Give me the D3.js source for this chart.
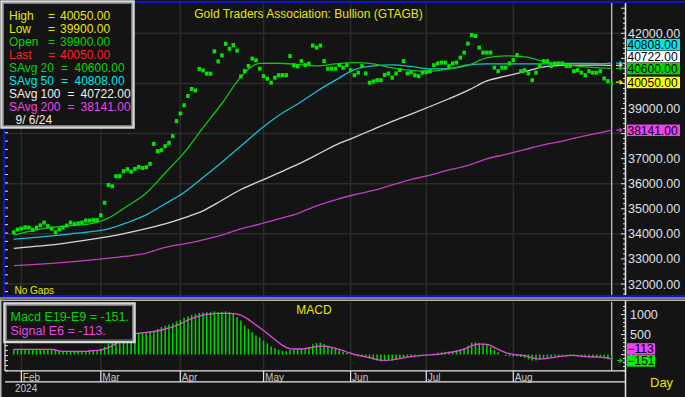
<!DOCTYPE html>
<html>
<head>
<meta charset="utf-8">
<script src="https://cdn.jsdelivr.net/npm/d3@7"></script>
<style>
  html, body { margin: 0; padding: 0; background: #141414; overflow: hidden; }
  svg { display: block; font-family: "Liberation Sans", Arial, sans-serif; }
</style>
</head>
<body>
<div id="chart"></div>
<script>
// Chart size
const width = 685;
const height = 397;

// Trading days (weekdays) shown on the chart
const firstDay = new Date(2024, 0, 30);
const lastDay = new Date(2024, 8, 6);

// Daily closes, one per trading day
const closes = [
  34060, 34170, 34210, 34260, 34250, 34155, 34250, 34340, 34450, 34310,
  34210, 34060, 34180, 34250, 34330, 34450, 34390, 34420, 34450, 34530,
  34530, 34550, 34550, 34740, 35240, 35950, 35900, 36300, 36300, 36500,
  36580, 36480, 36590, 36670, 36630, 36660, 36790, 37590, 37300, 37340,
  37500, 37630, 37900, 38500, 38800, 39130, 39500, 39780, 39720, 40580,
  40520, 40390, 40390, 41280, 40880, 41120, 41580, 41380, 41530, 41310,
  40280, 40500, 40700, 40990, 40920, 40590, 40290, 40190, 40030, 40230,
  40330, 40330, 40330, 41090, 40720, 40680, 40890, 40730, 40790, 41510,
  41430, 41510, 40890, 40590, 40590, 40590, 40730, 40630, 40730, 40530,
  40330, 40430, 40690, 40400, 40030, 40080, 40130, 40130, 40340, 40400,
  40230, 40400, 40530, 40890, 40400, 40450, 40330, 40290, 40430, 40450,
  40490, 40730, 40800, 40830, 40830, 40690, 40800, 40830, 41030, 41230,
  41590, 41930, 41890, 41430, 41230, 41230, 41230, 40630, 40490, 40630,
  40630, 40800, 40930, 41130, 40490, 40530, 40400, 40130, 40430, 40690,
  40890, 40890, 40690, 40800, 40800, 40800, 40690, 40690, 40490, 40530,
  40430, 40330, 40490, 40430, 40430, 40490, 40200, 40090, 40050
];

// Last day's bar
const lastHigh = 40050;
const lastLow = 39900;
const lastOpen = 39900;
const lastClose = 40050;

// Moving averages, read at these trading-day indexes
const maIdx = [0, 5, 10, 15, 20, 25, 30, 35, 40, 45, 50, 55, 60, 65, 70, 75, 80,
  85, 90, 95, 100, 105, 110, 115, 120, 125, 130, 135, 140, 145, 150, 155, 158];
const sAvg20 = [33955, 34130, 34260, 34330, 34400, 34630, 35110, 35630, 36430, 37240,
  38240, 39200, 40260, 40800, 40805, 40760, 40700, 40780, 40830, 40780, 40620, 40520,
  40480, 40580, 40720, 41020, 41100, 41060, 40880, 40760, 40670, 40620, 40600];
const sAvg50 = [33785, 33850, 33920, 34000, 34080, 34200, 34450, 34760, 35200, 35650,
  36250, 36860, 37500, 38150, 38720, 39180, 39680, 40130, 40550, 40700, 40740, 40680,
  40580, 40590, 40740, 40780, 40780, 40780, 40780, 40800, 40800, 40790, 40808];
const sAvg100 = [33425, 33490, 33560, 33660, 33770, 33890, 34040, 34210, 34400, 34640,
  34920, 35340, 35770, 36100, 36430, 36770, 37150, 37540, 37850, 38170, 38490, 38780,
  39080, 39390, 39720, 40100, 40290, 40470, 40660, 40720, 40730, 40730, 40722];
const sAvg200 = [32730, 32770, 32820, 32880, 32950, 33030, 33110, 33230, 33460, 33600,
  33760, 33950, 34200, 34390, 34600, 34810, 35120, 35360, 35560, 35730, 35950, 36170,
  36340, 36550, 36730, 36990, 37170, 37360, 37550, 37700, 37880, 38040, 38141];

// MACD (E19-E9) histogram and signal (E6), one per trading day
const macd = [
  135, 135, 138, 140, 138, 135, 132, 135, 138, 136, 130,
  110, 90, 80, 75, 72, 70, 72, 75, 80, 95, 105, 110,
  145, 200, 275, 350, 400, 450, 480, 510, 530,
  550, 545, 555, 565, 575, 600,
  640, 690, 720, 750, 780, 830, 870, 920, 960, 990, 1010, 1040, 1050, 1060, 1060, 1080, 1060, 1070, 1080, 1060, 1040,
  940, 850, 730, 640, 560, 480, 420, 350, 280, 200, 160, 120, 95, 85,
  130, 130, 140, 150, 170, 190, 250, 290, 300, 260, 220, 180, 140, 110,
  70, 40, 10, -20, -40, -50, -60, -100, -120, -150, -170, -160, -150, -150, -120, -90, -60, -60,
  -40, -30, -20, -10, 0, 10, 30, 50, 60, 70, 80, 90, 110, 130, 160, 220, 300, 310,
  290, 270, 240, 190, 120, 60, 0, -30, -40, -50, -40, -60, -80, -120, -150, -150,
  -130, -100, -80, -60, -50, -40, -30, -30, -30, -40, -40, -50, -60, -60, -60, -60, -70, -90, -115, -151
];
const signal = [
  130, 130, 130, 130, 130, 130, 130, 130, 130, 130, 130,
  115, 95, 82, 80, 80, 78, 78, 80, 82, 90, 98, 104,
  115, 140, 175, 220, 275, 330, 390, 440, 490,
  520, 535, 545, 555, 565, 575,
  590, 615, 640, 665, 695, 730, 770, 815, 860, 900, 935, 965, 990, 1005, 1015, 1025, 1030, 1030, 1030, 1030, 1025,
  1010, 985, 940, 880, 810, 740, 670, 600, 530, 450, 370, 300, 230, 180, 150, 140, 140, 140,
  150, 165, 180, 200, 212, 215, 200, 180, 155, 130,
  100, 65, 35, 5, -15, -35, -55, -75, -100, -125, -140, -145, -140, -130, -115, -100, -80, -65,
  -50, -40, -30, -20, -15, -8, 0, 8, 20, 35, 50, 65, 85, 105, 135, 175, 220, 250,
  260, 260, 255, 230, 175, 130, 85, 50, 25, 5, -5, -15, -25, -50, -80, -100,
  -105, -105, -95, -80, -65, -50, -40, -30, -20, -20, -30, -40, -50, -55, -60, -60, -65, -75, -85, -113
];

// Axis ticks
const priceTicks = [32000, 33000, 34000, 35000, 36000, 37000, 38000, 39000, 40000, 41000, 42000];
const priceGrid = [32000, 34000, 36000, 38000, 40000, 42000];
const macdTicks = [0, 500, 1000];

// Style constants
const COLORS = {
    bg: "#141414",
    grid: "#2c2c2c",
    blue: "#0a14d8",
    frame: "#b8b8b8",
    text: "#dde2e8",
    yellow: "#e8e800",
    dots: "#00e600",
    s20: "#10c810",
    s50: "#18c0d0",
    s100: "#d8d8d8",
    s200: "#c040c0",
    green: "#00d800",
    cyan: "#00e8e8",
    white: "#f0f0f0",
    red: "#ff2020",
    magenta: "#e848e8"
};

const days = d3.timeDay.range(firstDay, d3.timeDay.offset(lastDay, 1))
    .filter(d => d.getDay() !== 0 && d.getDay() !== 6);

const svg = d3.select("#chart")
    .append("svg")
    .attr("width", width)
    .attr("height", height);

svg.append("rect").attr("width", width).attr("height", height).attr("fill", COLORS.bg);

// Scales
const x = d3.scalePoint().domain(d3.range(closes.length)).range([13.8, 611.7]);
const y = d3.scaleLinear().domain([32000, 42000]).range([284, 33.3]);
const ym = d3.scaleLinear().domain([0, 1000]).range([354.6, 314.6]);

// month starts (the last, unfinished month gets no mark)
const monthStarts = d3.range(1, days.length)
    .filter(i => days[i].getMonth() !== days[i - 1].getMonth())
    .filter(i => x(i) < 590);

// ---------- Price panel ----------
const main = svg.append("g");

main.selectAll("line.hgrid")
    .data(priceGrid)
    .enter().append("line")
    .attr("x1", 5).attr("x2", 625)
    .attr("y1", d => y(d)).attr("y2", d => y(d))
    .attr("stroke", COLORS.grid).attr("stroke-width", 1.5);

main.selectAll("line.vgrid")
    .data(monthStarts)
    .enter().append("line")
    .attr("x1", d => x(d)).attr("x2", d => x(d))
    .attr("y1", 3).attr("y2", 295)
    .attr("stroke", COLORS.grid).attr("stroke-width", 1.5);

// cursor on last bar
main.append("line")
    .attr("x1", x(closes.length - 1)).attr("x2", x(closes.length - 1))
    .attr("y1", 3).attr("y2", 295)
    .attr("stroke", "#d0d0d0").attr("stroke-width", 1.2);

const maLine = d3.line().x((d, i) => x(maIdx[i])).y(d => y(d)).curve(d3.curveMonotoneX);
[[sAvg200, COLORS.s200], [sAvg100, COLORS.s100], [sAvg50, COLORS.s50], [sAvg20, COLORS.s20]]
    .forEach(([vals, color]) => {
        main.append("path")
            .attr("d", maLine(vals))
            .attr("fill", "none")
            .attr("stroke", color)
            .attr("stroke-width", 1.3);
    });

// close dots
main.selectAll("rect.dot")
    .data(closes.slice(0, -1))
    .enter().append("rect")
    .attr("x", (d, i) => x(i) - 1.75)
    .attr("y", d => y(d) - 2)
    .attr("width", 3.5)
    .attr("height", 4)
    .attr("fill", COLORS.dots);

// last day as a bar
main.append("rect")
    .attr("x", x(closes.length - 1) - 1)
    .attr("y", y(lastHigh) - 0.5)
    .attr("width", 2.2)
    .attr("height", y(lastLow) - y(lastHigh) + 1)
    .attr("fill", COLORS.dots);

// left ticks
main.selectAll("line.lt")
    .data(d3.range(31700, 43100, 1000 / 3))
    .enter().append("line")
    .attr("x1", 5).attr("x2", 8)
    .attr("y1", d => y(d)).attr("y2", d => y(d))
    .attr("stroke", "#e0e0e0").attr("stroke-width", 1);

// right axis
svg.append("line").attr("x1", 625.5).attr("x2", 625.5).attr("y1", 3).attr("y2", 297)
    .attr("stroke", "#e8e8e8").attr("stroke-width", 1.5);
main.selectAll("line.rt")
    .data(d3.range(31600, 43200, 200))
    .enter().append("line")
    .attr("x1", d => d % 1000 === 0 ? 621 : 623).attr("x2", 625)
    .attr("y1", d => y(d)).attr("y2", d => y(d))
    .attr("stroke", "#e0e0e0").attr("stroke-width", 1);

// value boxes on the right axis
const lastItems = [
    { v: sAvg50[sAvg50.length - 1], color: COLORS.cyan, arrow: COLORS.s50 },
    { v: sAvg100[sAvg100.length - 1], color: "#ffffff", arrow: COLORS.s100 },
    { v: sAvg20[sAvg20.length - 1], color: COLORS.green, arrow: COLORS.s20 },
    { v: lastClose, color: "#ffff00", arrow: COLORS.yellow },
    { v: sAvg200[sAvg200.length - 1], color: "#f040f0", arrow: COLORS.s200 }
];

function stackLabels(items, scale, gap) {
    const sorted = items.slice().sort((a, b) => scale(b.v) - scale(a.v));
    let prev = Infinity;
    sorted.forEach(d => {
        d.ly = Math.min(scale(d.v), prev - gap);
        prev = d.ly;
    });
    return sorted;
}
stackLabels(lastItems, y, 12);

const fmt2 = d3.format(".2f");

main.selectAll("text.ptick")
    .data(priceTicks.filter(t => lastItems.every(d => Math.abs(d.ly - y(t)) > 4)))
    .enter().append("text")
    .attr("x", 628).attr("y", d => y(d) + 4.5)
    .attr("fill", COLORS.text).attr("font-size", "12.5px")
    .text(d => fmt2(d));

lastItems.forEach(d => {
    main.append("path")
        .attr("d", `M616,${y(d.v)}H622M619.5,${y(d.v) - 2}L622,${y(d.v)}L619.5,${y(d.v) + 2}`)
        .attr("fill", "none").attr("stroke", d.arrow).attr("stroke-width", 1.2);
    main.append("rect")
        .attr("x", 627).attr("y", d.ly - 5.5)
        .attr("width", 53).attr("height", 11.5)
        .attr("fill", d.color);
    main.append("text")
        .attr("x", 627.5).attr("y", d.ly + 4.5)
        .attr("fill", "#000").attr("font-size", "12px")
        .text(fmt2(d.v));
});

// title and "No Gaps"
svg.append("text")
    .attr("x", 308.5).attr("y", 17.5)
    .attr("text-anchor", "middle")
    .attr("fill", COLORS.yellow).attr("font-size", "12px")
    .text("Gold Traders Association: Bullion (GTAGB)");
svg.append("text")
    .attr("x", 14.5).attr("y", 294)
    .attr("fill", COLORS.yellow).attr("font-size", "10px")
    .text("No Gaps");

// blue frame of the price panel
svg.append("rect").attr("x", 3).attr("y", 1).attr("width", width - 3).attr("height", 2).attr("fill", COLORS.blue);
svg.append("rect").attr("x", 3).attr("y", 1).attr("width", 2).attr("height", 296).attr("fill", COLORS.blue);
svg.append("rect").attr("x", 3).attr("y", 295).attr("width", width - 3).attr("height", 2).attr("fill", COLORS.blue);
svg.append("rect").attr("x", 0).attr("y", 297.5).attr("width", width).attr("height", 1).attr("fill", "#e8e8e8");
svg.append("rect").attr("x", 0).attr("y", 299.5).attr("width", width).attr("height", 1.5).attr("fill", COLORS.frame);

// bevelled legend box
function bevelBox(x0, y0, w, h) {
    svg.append("rect").attr("x", x0).attr("y", y0).attr("width", w).attr("height", h)
        .attr("fill", COLORS.bg).attr("stroke", "#d8d8d8").attr("stroke-width", 2.5);
    svg.append("rect").attr("x", x0 + 2).attr("y", y0 + 2).attr("width", w - 4).attr("height", h - 4)
        .attr("fill", "none").attr("stroke", "#7a7a7a").attr("stroke-width", 1);
}
bevelBox(1.5, 1.5, 132, 126);

const legend = svg.append("g").attr("font-size", "12px");
const legendRows = [
    { parts: [["High", 9], ["=", 48], [fmt2(lastHigh), 60]], color: COLORS.yellow },
    { parts: [["Low", 9], ["=", 48], [fmt2(lastLow), 60]], color: COLORS.yellow },
    { parts: [["Open", 9], ["=", 48], [fmt2(lastOpen), 60]], color: COLORS.green },
    { parts: [["Last", 9], ["=", 48], [fmt2(lastClose), 60]], color: COLORS.red },
    { parts: [["SAvg", 9], ["20", 40.5], ["=", 61], [fmt2(sAvg20[sAvg20.length - 1]), 74.5]], color: COLORS.green },
    { parts: [["SAvg", 9], ["50", 40.5], ["=", 61], [fmt2(sAvg50[sAvg50.length - 1]), 74.5]], color: COLORS.cyan },
    { parts: [["SAvg", 9], ["100", 40.5], ["=", 67.5], [fmt2(sAvg100[sAvg100.length - 1]), 80.5]], color: COLORS.white },
    { parts: [["SAvg", 9], ["200", 40.5], ["=", 67.5], [fmt2(sAvg200[sAvg200.length - 1]), 80.5]], color: COLORS.magenta },
    { parts: [[d3.timeFormat("%-m/%e/%y")(days[days.length - 1]), 15.5]], color: COLORS.white }
];
legendRows.forEach((row, k) => {
    row.parts.forEach(([t, px]) => {
        legend.append("text")
            .attr("x", px).attr("y", 20 + 13 * k)
            .attr("fill", row.color)
            .attr("xml:space", "preserve")
            .text(t);
    });
});

// ---------- MACD panel ----------
const mp = svg.append("g");

mp.selectAll("line.vgrid")
    .data(monthStarts)
    .enter().append("line")
    .attr("x1", d => x(d)).attr("x2", d => x(d))
    .attr("y1", 302).attr("y2", 370)
    .attr("stroke", COLORS.grid).attr("stroke-width", 1.5);

mp.append("line")
    .attr("x1", x(closes.length - 1)).attr("x2", x(closes.length - 1))
    .attr("y1", 302).attr("y2", 370.5)
    .attr("stroke", "#d0d0d0").attr("stroke-width", 1.2);

mp.selectAll("line.bar")
    .data(macd)
    .enter().append("line")
    .attr("x1", (d, i) => x(i)).attr("x2", (d, i) => x(i))
    .attr("y1", ym(0)).attr("y2", d => ym(d))
    .attr("stroke", COLORS.green).attr("stroke-width", 1.5);

mp.append("path")
    .attr("d", d3.line().x((d, i) => x(i)).y(d => ym(d))(signal))
    .attr("fill", "none").attr("stroke", COLORS.magenta).attr("stroke-width", 1.3);

// panel lines
svg.append("rect").attr("x", 0).attr("y", 299.5).attr("width", 1.5).attr("height", 97.5).attr("fill", COLORS.frame);
svg.append("line").attr("x1", 5).attr("x2", 5).attr("y1", 302).attr("y2", 371).attr("stroke", "#e8e8e8").attr("stroke-width", 1.2);
mp.selectAll("line.lt")
    .data(d3.range(-400, 1250, 125))
    .enter().append("line")
    .attr("x1", 5).attr("x2", 8)
    .attr("y1", d => ym(d)).attr("y2", d => ym(d))
    .attr("stroke", "#e0e0e0").attr("stroke-width", 1);
svg.append("line").attr("x1", 625.5).attr("x2", 625.5).attr("y1", 301).attr("y2", 397)
    .attr("stroke", "#e8e8e8").attr("stroke-width", 1.5);
mp.selectAll("line.rt")
    .data(d3.range(-400, 1300, 100))
    .enter().append("line")
    .attr("x1", d => d % 500 === 0 ? 621 : 623).attr("x2", 625)
    .attr("y1", d => ym(d)).attr("y2", d => ym(d))
    .attr("stroke", "#e0e0e0").attr("stroke-width", 1);
svg.append("line").attr("x1", 5).attr("x2", 626).attr("y1", 370.8).attr("y2", 370.8).attr("stroke", "#e8e8e8").attr("stroke-width", 1.3);
svg.append("line").attr("x1", 5).attr("x2", 626).attr("y1", 381.8).attr("y2", 381.8).attr("stroke", "#e8e8e8").attr("stroke-width", 1.3);

// MACD value boxes
const macdItems = [
    { v: signal[signal.length - 1], color: "#f040f0" },
    { v: macd[macd.length - 1], color: "#00f000" }
];
stackLabels(macdItems, ym, 12);

mp.selectAll("text.mtick")
    .data(macdTicks.filter(t => macdItems.every(d => Math.abs(d.ly - ym(t)) > 4)))
    .enter().append("text")
    .attr("x", 630).attr("y", d => ym(d) + 4.5)
    .attr("fill", COLORS.text).attr("font-size", "12.5px")
    .text(d => d);

mp.append("path")
    .attr("d", `M617,${ym(macd[macd.length - 1])}H622M619.5,${ym(macd[macd.length - 1]) - 2}L622,${ym(macd[macd.length - 1])}L619.5,${ym(macd[macd.length - 1]) + 2}`)
    .attr("fill", "none").attr("stroke", COLORS.green).attr("stroke-width", 1.2);

macdItems.forEach(d => {
    mp.append("rect")
        .attr("x", 627).attr("y", d.ly - 5.5)
        .attr("width", 28).attr("height", 11.5)
        .attr("fill", d.color);
    mp.append("text")
        .attr("x", 627.5).attr("y", d.ly + 4.5)
        .attr("fill", "#000").attr("font-size", "12px")
        .text(d3.format("d")(d.v));
});

mp.append("text")
    .attr("x", 314).attr("y", 314)
    .attr("text-anchor", "middle")
    .attr("fill", COLORS.yellow).attr("font-size", "12px")
    .text("MACD");

// MACD legend (drawn after the box so it stays on top)
bevelBox(4.5, 303.5, 130, 38.5);
svg.append("text").attr("x", 10.5).attr("y", 320.5)
    .attr("fill", COLORS.green).attr("font-size", "12.5px")
    .text(`Macd E19-E9 = ${macd[macd.length - 1]}.`);
svg.append("text").attr("x", 10.5).attr("y", 334.5)
    .attr("fill", COLORS.magenta).attr("font-size", "12.5px")
    .text(`Signal E6 = ${signal[signal.length - 1]}.`);

// month axis
const monthFmt = d3.timeFormat("%b");
const ax = svg.append("g");
ax.selectAll("line.mt")
    .data(monthStarts)
    .enter().append("line")
    .attr("x1", d => x(d)).attr("x2", d => x(d))
    .attr("y1", 371).attr("y2", 382)
    .attr("stroke", "#e8e8e8").attr("stroke-width", 1.2);
ax.selectAll("text.ml")
    .data(monthStarts)
    .enter().append("text")
    .attr("x", d => x(d) + 1.5).attr("y", 381)
    .attr("fill", "#c8c8c8").attr("font-size", "10px")
    .text(d => monthFmt(days[d]));
ax.append("text")
    .attr("x", 15).attr("y", 391.5)
    .attr("fill", "#c8c8c8").attr("font-size", "10px")
    .text(d3.timeFormat("%Y")(days[0]));
ax.append("text")
    .attr("x", 650).attr("y", 387)
    .attr("fill", COLORS.yellow).attr("font-size", "13px")
    .text("Day");
</script>
</body>
</html>
